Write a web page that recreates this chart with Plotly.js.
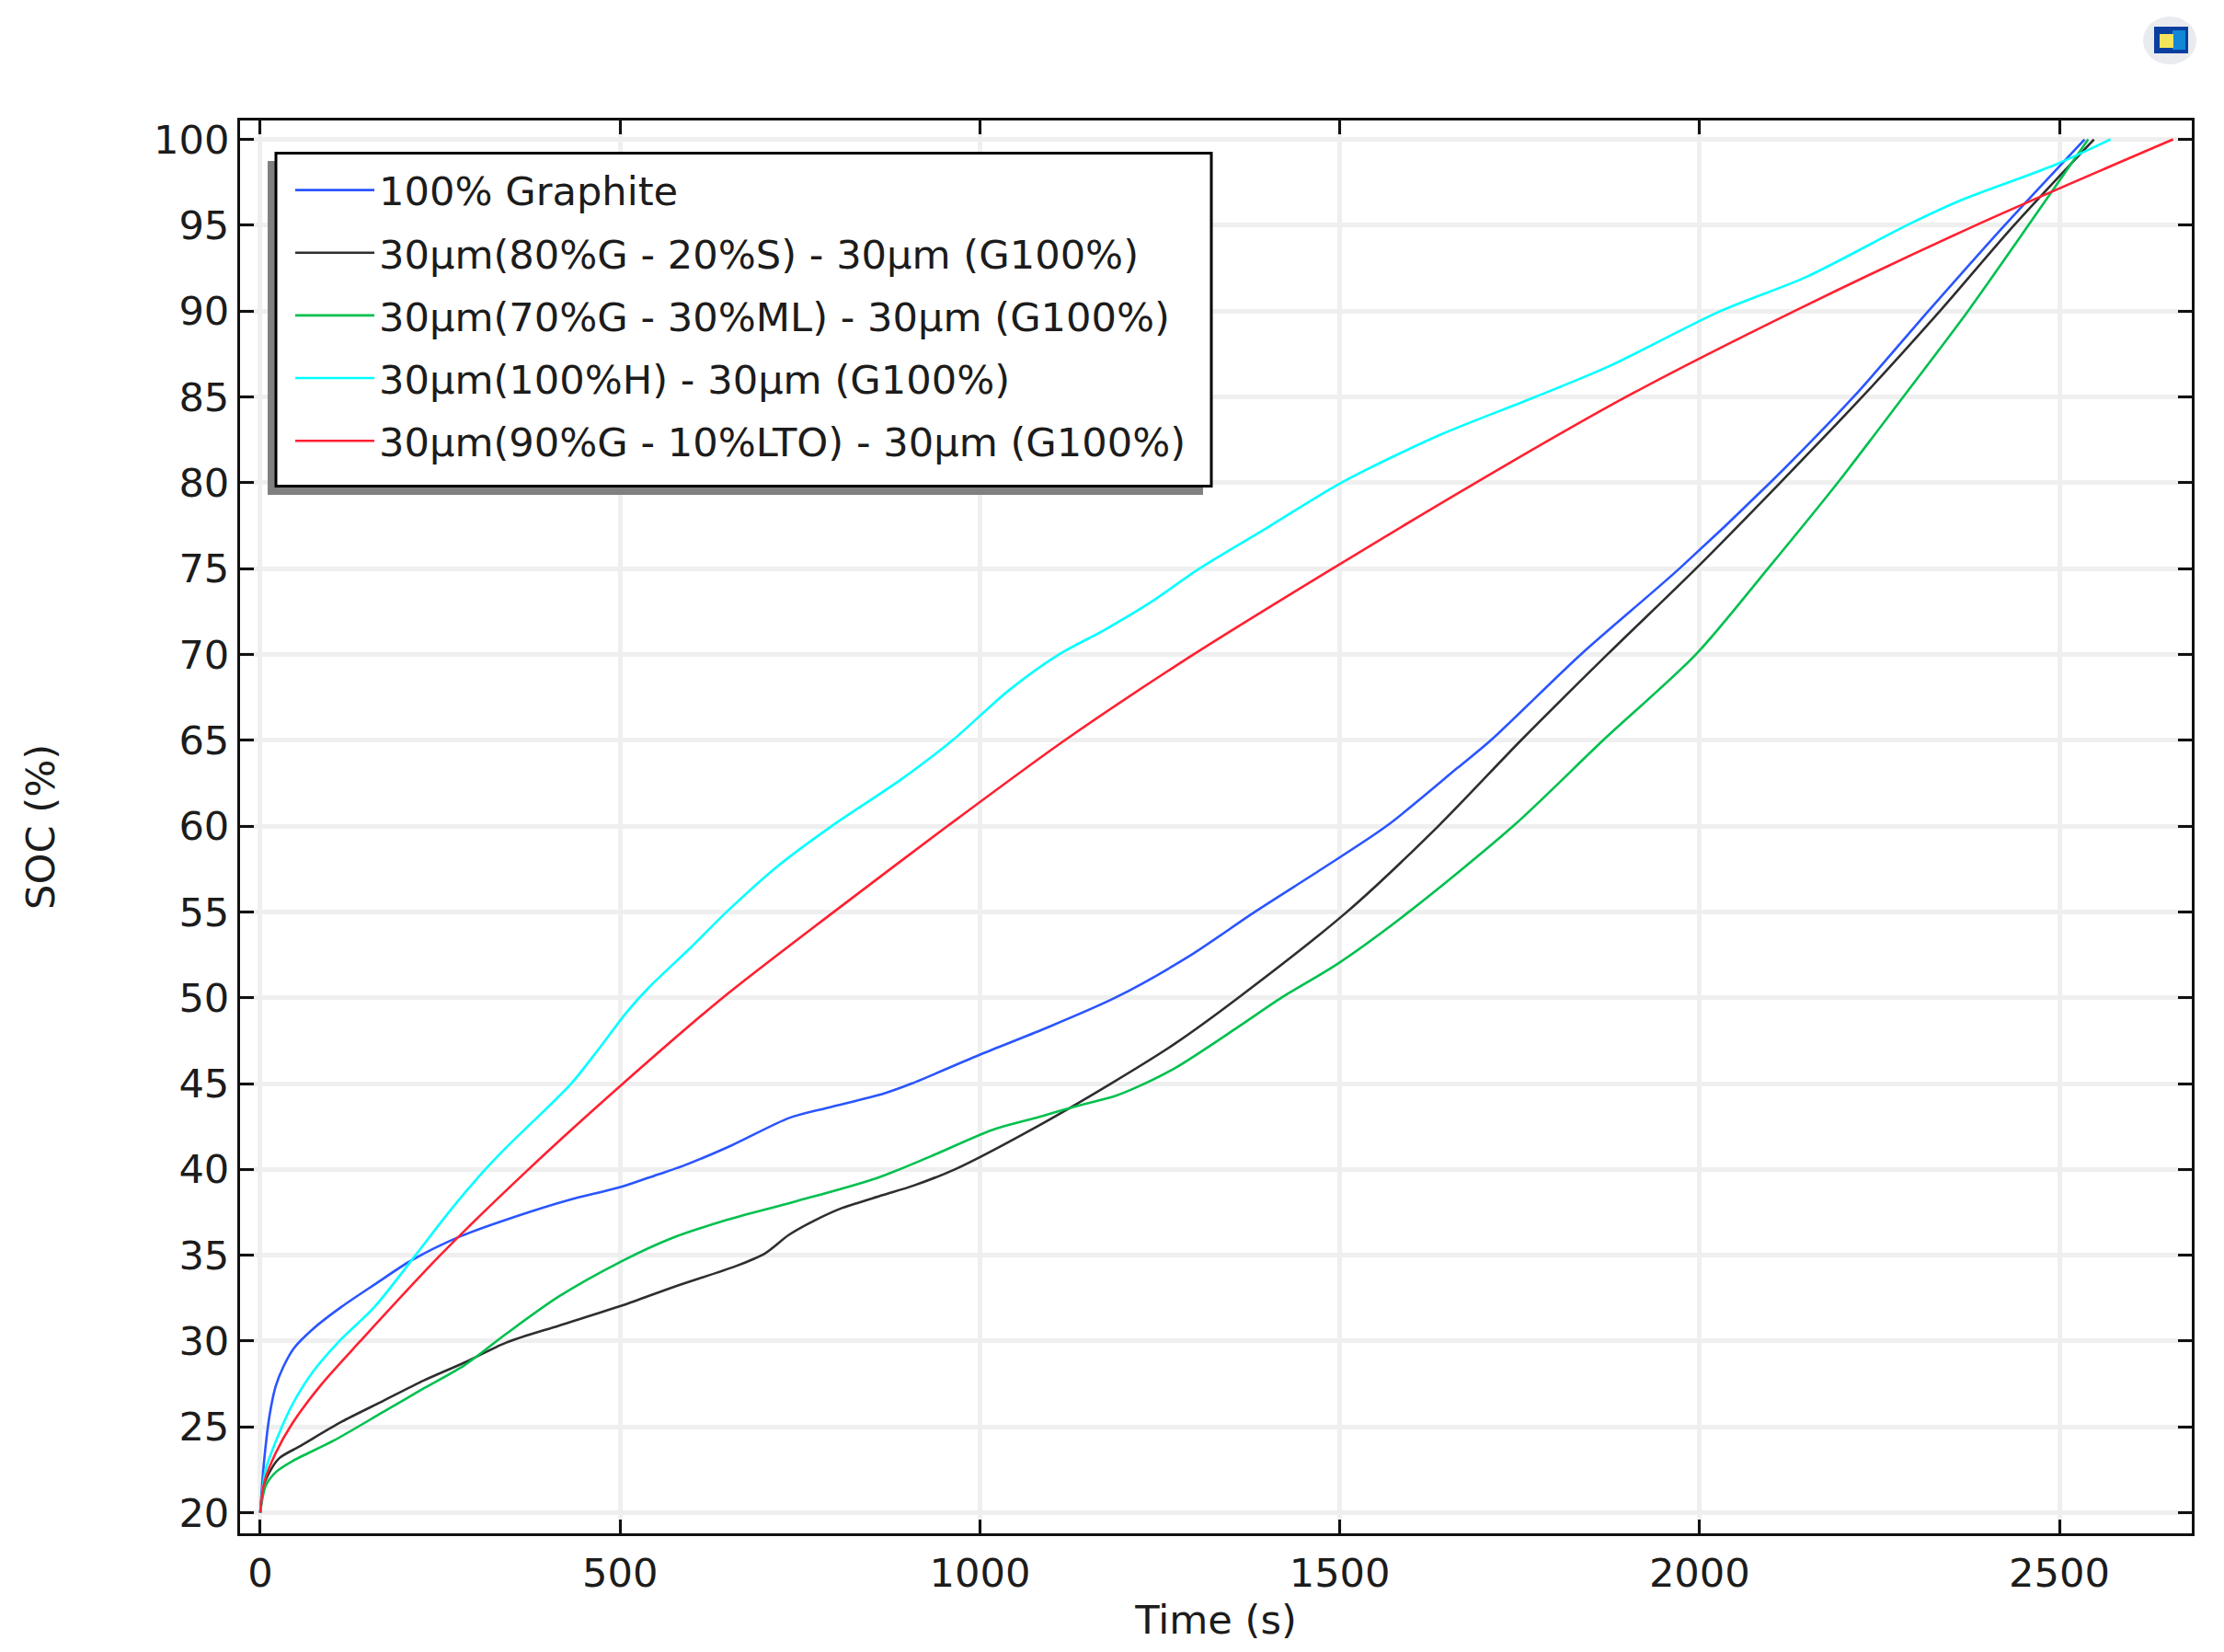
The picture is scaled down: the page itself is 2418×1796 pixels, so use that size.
<!DOCTYPE html>
<html>
<head>
<meta charset="utf-8">
<script src="https://cdn.plot.ly/plotly-3.0.1.min.js"></script>
<style>html,body{margin:0;padding:0;background:#fff}</style>
</head>
<body>
<div id="chart" style="width:2418px;height:1796px"></div>
<script>
const seriesNames = ["100% Graphite","30µm(80%G - 20%S) - 30µm (G100%)","30µm(70%G - 30%ML) - 30µm (G100%)","30µm(100%H) - 30µm (G100%)","30µm(90%G - 10%LTO) - 30µm (G100%)"];
const seriesColors = ["#2a55ff","#2e2e2e","#00c04f","#00ffff","#ff2030"];
const xTicks = [0,500,1000,1500,2000,2500];
const yTicks = [20,25,30,35,40,45,50,55,60,65,70,75,80,85,90,95,100];

const graphiteT = [0,4.6,13,21.7,32,47,73,113,159,210,278,358,427,503,552,587,655,735,789,865,905,1001,1090,1188,1290,1382,1475,1565,1664,1710,1835,1972,2098,2214,2318,2424,2535];
const graphiteS = [20,22.7,25.7,27.4,28.5,29.6,30.7,32,33.3,34.7,36.1,37.3,38.2,39,39.7,40.2,41.4,43,43.6,44.4,45,46.7,48.2,50,52.4,55,57.5,60,63.4,65,70,75,80,85,90,95,100];

const silgrT = [0,4.6,16,27,56,113,170,227,284,341,415,503,575,661,701,735,769,809,865,908,965,1075,1182,1270,1359,1510,1637,1752,1872,1995,2112,2226,2334,2437,2548];
const silgrS = [20,21.56,22.6,23.2,23.9,25.3,26.5,27.7,28.75,29.9,30.9,32.07,33.16,34.37,35.1,36.2,37,37.76,38.5,39.06,40,42.4,45,47.3,50,55,60,65,70,75,80,85,90,95,100];

const mlT = [0,7.4,21.7,44.5,102,170,227,284,341,415,503,569,644,741,857,931,1017,1074,1131,1188,1216,1273,1359,1419,1498,1596,1741,1866,1995,2095,2192,2283,2373,2457,2540];
const mlS = [20,21.56,22.37,23,24.2,25.85,27.24,28.6,30.4,32.6,34.67,35.95,37,38.1,39.5,40.75,42.3,42.96,43.65,44.28,44.75,45.95,48.3,50,52,55,60,65,70,75,80,85,90,95,100];

const hardT = [0,7.4,30,44.5,73,110,159,215.7,260,304,340,432,470,510,540,600,648,720,794,890,962,1040,1110,1172,1236,1305,1400,1502,1640,1772,1875,2029,2149,2288,2360,2493,2571];
const hardS = [20,22.5,25,26.3,28.2,30,32,35,37.4,39.6,41.2,45,47,49.2,50.6,53,55,57.7,60,62.7,65,67.9,70,71.4,73,75,77.4,80,82.8,85,86.8,90,92,95,96.4,98.5,100];

const ltoT = [0,5.7,21.7,44.5,84.4,139,250,372.6,504,642.6,797,955,1118,1297,1490,1689,1898,2132,2384,2658];
const ltoS = [20,21.8,23.5,25.2,27.45,30,35,40,45,50,55,60,65,70,75,80,85,90,95,100];

const seriesT = [graphiteT,silgrT,mlT,hardT,ltoT];
const seriesS = [graphiteS,silgrS,mlS,hardS,ltoS];

const W=2418,H=1796,L=261,R=2383,T=131,B=1667;
const px=x=>(x-L)/(R-L), py=y=>(B-y)/(B-T);
const rect=(x0,y0,x1,y1,fill,extra)=>Object.assign({type:'rect',xref:'paper',yref:'paper',x0:px(x0),x1:px(x1),y0:py(y1),y1:py(y0),fillcolor:fill,line:{width:0},layer:'above'},extra||{});

const traces = seriesNames.map((name,i)=>({
  x:seriesT[i], y:seriesS[i], name:name, mode:'lines', type:'scatter', legendgroup:'g'+i,
  line:{color:seriesColors[i],width:2.6,shape:'spline',smoothing:0.8}
}));

const FS=43.2, ink='#1c1c1c';
const axisBase = {showline:true,linecolor:'#111',linewidth:3,mirror:'ticks',ticks:'inside',ticklen:15,tickwidth:3,tickcolor:'#111',
  showgrid:true,gridcolor:'#efefef',gridwidth:5,zeroline:false,tickfont:{family:'DejaVu Sans',size:FS,color:ink}};

const layout = {
  width:W,height:H,paper_bgcolor:'#fff',plot_bgcolor:'#fff',
  margin:{l:L,r:W-R,t:T,b:H-B,pad:0},showlegend:true,
  xaxis:Object.assign({},axisBase,{range:[-28.1,2684],tickvals:xTicks,ticktext:xTicks.map(String),ticklabelstandoff:3,title:{text:'Time (s)',font:{family:'DejaVu Sans',size:FS,color:ink},standoff:12}}),
  yaxis:Object.assign({},axisBase,{range:[18.8,101.1],tickvals:yTicks,ticktext:yTicks.map(String),title:{text:'SOC (%)',font:{family:'DejaVu Sans',size:FS,color:ink},standoff:94}}),
  legend:{x:px(316),y:py(172),xanchor:'left',yanchor:'top',bgcolor:'rgba(0,0,0,0)',borderwidth:0,
    font:{family:'DejaVu Sans',size:FS,color:ink},tracegroupgap:9,itemwidth:86,traceorder:'grouped'},
  shapes:[
    rect(291,175,1308,538,'#808080'),
    rect(300,166.5,1317,528.5,'#ffffff',{line:{color:'#000',width:3}}),
    {type:'circle',xref:'paper',yref:'paper',x0:px(2330),x1:px(2388),y0:py(70),y1:py(18),fillcolor:'#e9ebee',line:{width:0},layer:'above'},
    rect(2342,29,2379,58,'#0a3f9e'),
    rect(2362,33,2376,54,'#1187d6'),
    rect(2348,37,2363,52,'#f4e35a')
  ]
};
Plotly.newPlot('chart',traces,layout,{displayModeBar:false,staticPlot:true});
</script>
</body>
</html>
